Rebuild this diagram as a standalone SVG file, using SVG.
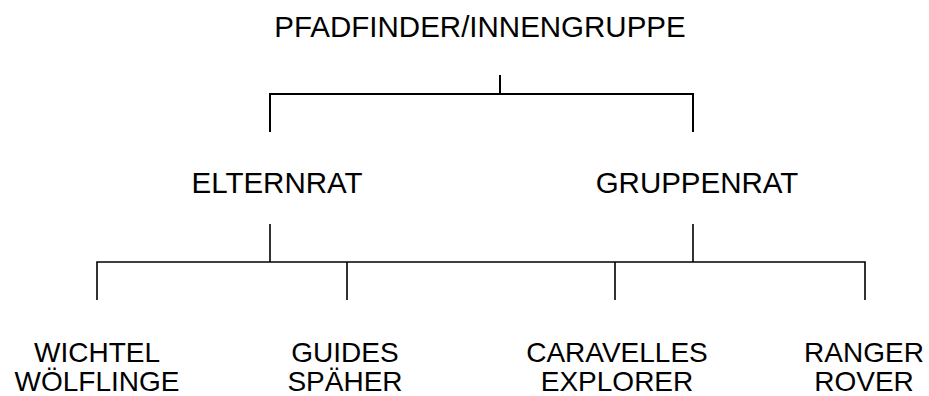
<svg xmlns="http://www.w3.org/2000/svg" width="929" height="396" viewBox="0 0 929 396">
<style>
text{font-family:"Liberation Sans",Arial,sans-serif;font-size:28px;fill:#000;text-anchor:middle}
.big{font-size:29.5px}
.c1{stroke:#000;stroke-width:2;fill:none}
.c2{stroke:#000;stroke-width:1.6;fill:none}
</style>
<rect width="929" height="396" fill="#fff"/>
<g id="connectors">
<path class="c1" d="M500,75V94M270,132V94H693V132"/>
<path class="c2" d="M270,224V262M693,224V262M97,300V262H865V300M347,262V300M615,262V300"/>
</g>
<g id="root"><text class="big" x="480" y="37">PFADFINDER/INNENGRUPPE</text></g>
<g id="elternrat"><text class="big" x="277" y="193">ELTERNRAT</text></g>
<g id="gruppenrat"><text class="big" x="697" y="193">GRUPPENRAT</text></g>
<g id="wichtel"><text x="97" y="362">WICHTEL</text><text x="97" y="391">WÖLFLINGE</text></g>
<g id="guides"><text x="345" y="362">GUIDES</text><text x="345" y="391">SPÄHER</text></g>
<g id="caravelles"><text x="617" y="362">CARAVELLES</text><text x="617" y="391">EXPLORER</text></g>
<g id="ranger"><text x="864" y="362">RANGER</text><text x="864" y="391">ROVER</text></g>
</svg>
